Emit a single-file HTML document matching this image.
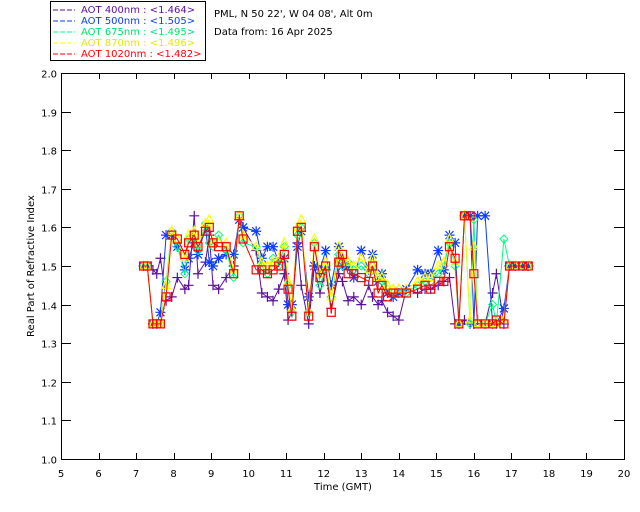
<!DOCTYPE html>
<html><head><meta charset="utf-8"><style>
body{margin:0;background:#fff;}
svg{display:block;font-family:"DejaVu Sans","Liberation Sans",sans-serif;}
</style></head><body>
<svg id="chart" width="640" height="512" viewBox="0 0 640 512">
<rect x="0" y="0" width="640" height="512" fill="#fff"/>
<g id="axes"></g>
<g id="series"></g>
<g>
<rect x="50.5" y="1.5" width="155" height="59" fill="#fff" stroke="#000"/>
<g font-size="10">
<line x1="53" y1="10" x2="75" y2="10" stroke="#5b0f9e" stroke-dasharray="5,2"/><text x="81" y="13" fill="#5b0f9e">AOT  400nm : &lt;1.464&gt;</text>
<line x1="53" y1="21" x2="75" y2="21" stroke="#0a3cff" stroke-dasharray="5,2"/><text x="81" y="24" fill="#0a3cff">AOT  500nm : &lt;1.505&gt;</text>
<line x1="53" y1="32" x2="75" y2="32" stroke="#00ff80" stroke-dasharray="5,2"/><text x="81" y="35" fill="#00e070">AOT  675nm : &lt;1.495&gt;</text>
<line x1="53" y1="43" x2="75" y2="43" stroke="#ffff00" stroke-dasharray="5,2"/><text x="81" y="46" fill="#e8e800">AOT  870nm : &lt;1.496&gt;</text>
<line x1="53" y1="54" x2="75" y2="54" stroke="#ff0000" stroke-dasharray="5,2"/><text x="81" y="57" fill="#ff0000">AOT 1020nm : &lt;1.482&gt;</text>
</g></g>
<text x="214" y="17" font-size="10">PML, N 50 22', W 04 08', Alt 0m</text>
<text x="214" y="35" font-size="10">Data from: 16 Apr 2025</text>
<text x="343" y="490" font-size="10" text-anchor="middle">Time (GMT)</text>
<text transform="translate(34,266) rotate(-90)" font-size="10" text-anchor="middle">Real Part of Refractive Index</text>
</svg>
<script>
const times=[7.2,7.3,7.45,7.55,7.65,7.8,7.95,8.1,8.3,8.4,8.55,8.65,8.85,8.95,9.05,9.2,9.4,9.6,9.75,9.85,10.2,10.35,10.5,10.65,10.8,10.95,11.05,11.15,11.3,11.4,11.6,11.75,11.9,12.05,12.2,12.4,12.5,12.65,12.8,13.0,13.2,13.3,13.45,13.55,13.7,13.85,14.0,14.2,14.5,14.7,14.85,15.05,15.2,15.35,15.5,15.6,15.75,15.9,16.0,16.1,16.3,16.5,16.6,16.8,16.95,17.1,17.3,17.45];
const v400=[1.5,1.5,1.49,1.48,1.52,1.41,1.42,1.47,1.44,1.45,1.63,1.48,1.51,1.58,1.45,1.44,1.47,1.5,1.62,1.6,1.54,1.43,1.42,1.41,1.44,1.48,1.36,1.38,1.56,1.45,1.35,1.5,1.43,1.49,1.39,1.48,1.46,1.41,1.42,1.4,1.45,1.42,1.4,1.41,1.38,1.37,1.36,1.44,1.43,1.44,1.44,1.45,1.46,1.47,1.35,1.35,1.36,1.35,1.35,1.36,1.35,1.43,1.48,1.35,1.5,1.5,1.5,1.5];
const v500=[1.5,1.5,1.35,1.35,1.38,1.58,1.58,1.55,1.49,1.52,1.56,1.53,1.6,1.51,1.5,1.52,1.53,1.53,1.62,1.6,1.59,1.52,1.55,1.55,1.51,1.52,1.4,1.4,1.55,1.59,1.42,1.5,1.49,1.54,1.45,1.55,1.5,1.5,1.47,1.54,1.49,1.53,1.46,1.48,1.43,1.42,1.43,1.44,1.49,1.48,1.48,1.54,1.49,1.58,1.56,1.35,1.63,1.63,1.35,1.63,1.63,1.35,1.35,1.39,1.5,1.5,1.5,1.5];
const v675=[1.5,1.5,1.35,1.35,1.35,1.46,1.59,1.55,1.48,1.57,1.57,1.54,1.61,1.56,1.55,1.58,1.54,1.47,1.63,1.56,1.55,1.5,1.48,1.52,1.5,1.55,1.45,1.38,1.58,1.6,1.38,1.56,1.45,1.49,1.42,1.53,1.5,1.51,1.49,1.5,1.48,1.5,1.47,1.46,1.44,1.43,1.44,1.43,1.45,1.46,1.46,1.48,1.5,1.56,1.5,1.35,1.63,1.35,1.62,1.35,1.35,1.4,1.35,1.57,1.5,1.5,1.5,1.5];
const v870=[1.5,1.5,1.35,1.35,1.35,1.45,1.59,1.57,1.52,1.58,1.59,1.56,1.61,1.62,1.56,1.56,1.56,1.49,1.63,1.58,1.55,1.51,1.5,1.51,1.52,1.56,1.46,1.39,1.6,1.62,1.38,1.57,1.48,1.51,1.42,1.55,1.52,1.51,1.5,1.52,1.49,1.52,1.47,1.47,1.45,1.44,1.44,1.44,1.46,1.47,1.47,1.5,1.51,1.57,1.51,1.35,1.63,1.36,1.55,1.35,1.35,1.35,1.35,1.36,1.5,1.5,1.5,1.5];
const v1020=[1.5,1.5,1.35,1.35,1.35,1.42,1.58,1.57,1.53,1.56,1.58,1.55,1.59,1.6,1.56,1.55,1.55,1.48,1.63,1.57,1.49,1.49,1.48,1.49,1.5,1.53,1.44,1.37,1.59,1.6,1.37,1.55,1.47,1.5,1.38,1.51,1.53,1.48,1.48,1.47,1.46,1.5,1.43,1.45,1.42,1.43,1.43,1.43,1.44,1.45,1.44,1.46,1.46,1.55,1.52,1.35,1.63,1.63,1.48,1.35,1.35,1.35,1.36,1.35,1.5,1.5,1.5,1.5];
const xTicks=[5,6,7,8,9,10,11,12,13,14,15,16,17,18,19,20];
const yTicks=["1.0","1.1","1.2","1.3","1.4","1.5","1.6","1.7","1.8","1.9","2.0"];

const NS="http://www.w3.org/2000/svg";
const L=61,R=624,T=73,B=459;
const xs=t=>L+(t-5)/15*(R-L);
const ys=v=>B-(v-1)/1*(B-T);
function mk(tag,attrs,parent){const e=document.createElementNS(NS,tag);for(const k in attrs)e.setAttribute(k,attrs[k]);parent.appendChild(e);return e;}
const ax=document.getElementById('axes');
const frame=mk('rect',{x:L+0.5,y:T+0.5,width:R-L,height:B-T,fill:'none',stroke:'#000'},ax);


xTicks.forEach(t=>{
  const x=Math.round(xs(t))+0.5;
  mk('line',{x1:x,y1:B,x2:x,y2:B-6,stroke:'#000'},ax);
  mk('line',{x1:x,y1:T,x2:x,y2:T+6,stroke:'#000'},ax);
  const tx=mk('text',{x:xs(t),y:B+18,'font-size':10,'text-anchor':'middle'},ax);
  tx.textContent=String(t);
  
  
});
yTicks.forEach((s,i)=>{
  const v=parseFloat(s);const y=Math.round(ys(v))+0.5;
  mk('line',{x1:L,y1:y,x2:L+10,y2:y,stroke:'#000'},ax);
  mk('line',{x1:R,y1:y,x2:R-10,y2:y,stroke:'#000'},ax);
  const tx=mk('text',{x:L-4,y:y+4,'font-size':10,'text-anchor':'end'},ax);
  tx.textContent=s;
  
  
});
const sg=document.getElementById('series');
const series=[[v400,'#5b0f9e','plus','400nm'],[v500,'#0a3cff','star','500nm'],[v675,'#00ff80','diamond','675nm'],[v870,'#ffff00','triangle','870nm'],[v1020,'#ff0000','square','1020nm']];
series.forEach(([vals,col,mkType,name])=>{
  const g=mk('g',{},sg);
  
  
  const pts=times.map((t,i)=>xs(t).toFixed(1)+','+ys(vals[i]).toFixed(1)).join(' ');
  mk('polyline',{points:pts,fill:'none',stroke:col,'stroke-width':1},g);
  times.forEach((t,i)=>{
    const x=xs(t),y=ys(vals[i]);let m;
    if(mkType==='plus') m=mk('path',{d:`M${x-5} ${y}H${x+5}M${x} ${y-5}V${y+5}`,stroke:col,'stroke-width':1.2,fill:'none'},g);
    else if(mkType==='star') m=mk('path',{d:`M${x-5} ${y}H${x+5}M${x} ${y-5}V${y+5}M${x-4} ${y-4}L${x+4} ${y+4}M${x-4} ${y+4}L${x+4} ${y-4}`,stroke:col,'stroke-width':1.2,fill:'none'},g);
    else if(mkType==='diamond') m=mk('path',{d:`M${x} ${y-4}L${x+4} ${y}L${x} ${y+4}L${x-4} ${y}Z`,stroke:col,'stroke-width':1,fill:'none'},g);
    else if(mkType==='triangle') m=mk('path',{d:`M${x} ${y-5}L${x+4} ${y+3}L${x-4} ${y+3}Z`,stroke:col,'stroke-width':1.2,fill:'none'},g);
    else m=mk('rect',{x:x-4,y:y-4,width:8,height:8,stroke:col,'stroke-width':1.2,fill:'none'},g);
    
    
  });
});
</script>
</body></html>
